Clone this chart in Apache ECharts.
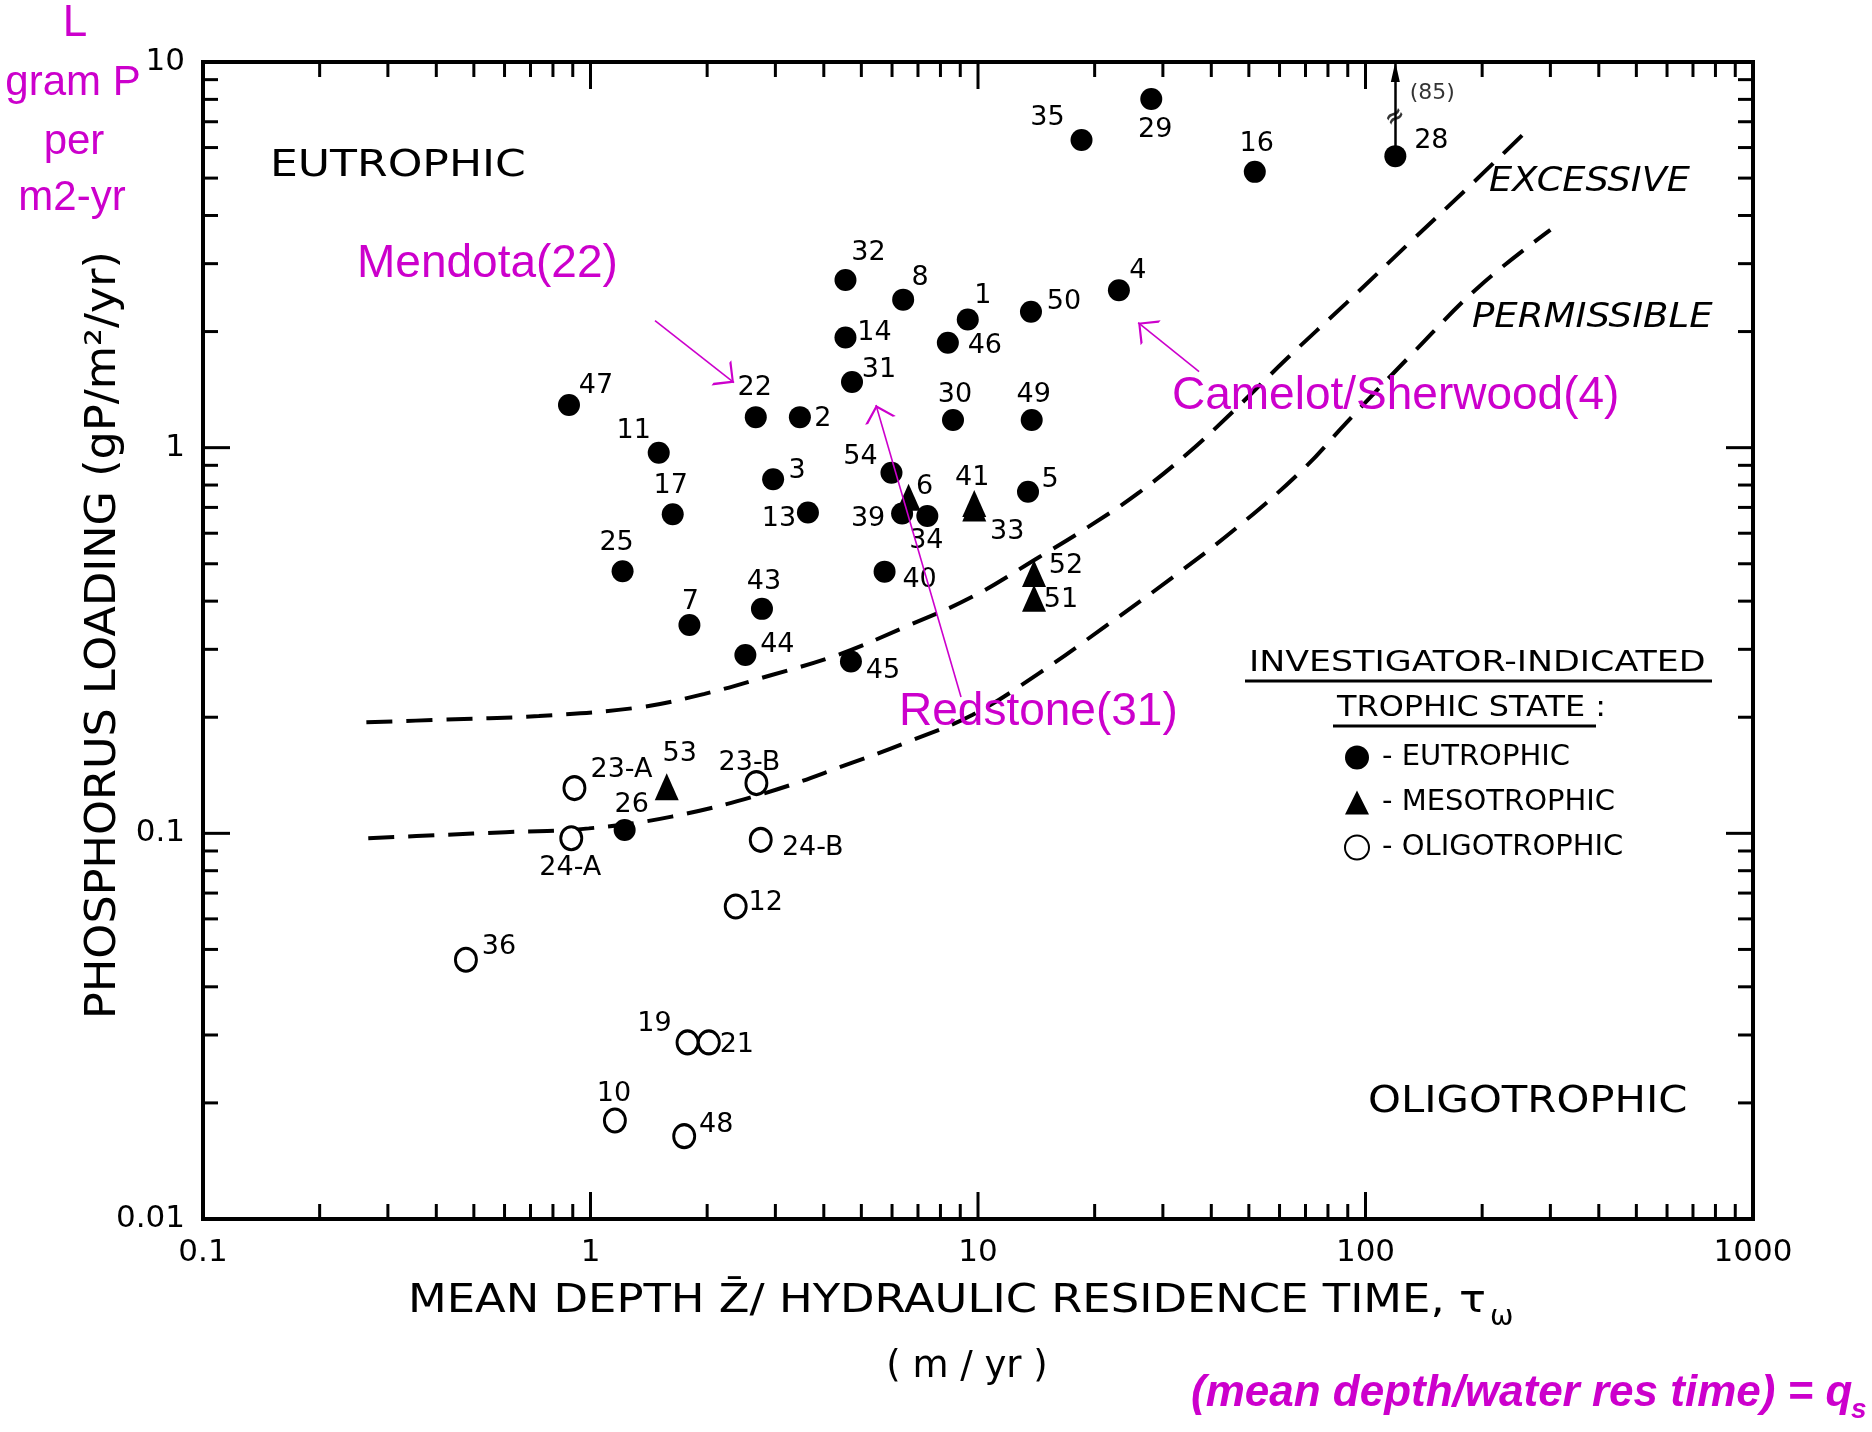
<!DOCTYPE html>
<html>
<head>
<meta charset="utf-8">
<script src="https://cdn.jsdelivr.net/npm/echarts@6/dist/echarts.min.js"></script>
<style>
  html, body { margin: 0; padding: 0; background: #ffffff; }
  #chart { width: 1872px; height: 1432px; }
</style>
</head>
<body>
<div id="chart"></div>
<script>
// Phosphorus loading L (gP/m2/yr) against qs = mean depth / hydraulic residence time (m/yr)

// Lakes reported as eutrophic
const eutrophicIds = ['47','11','17','25','7','43','44','22','2','3','13','32','14','31','8','1','46','50','4','30','49','54','39','34','5','40','45','35','29','16','28','26'];
const eutrophicQs  = [0.88,1.50,1.63,1.21,1.80,2.77,2.51,2.67,3.47,2.96,3.64,4.55,4.55,4.73,6.41,9.41,8.36,13.7,23.1,8.62,13.76,5.98,6.37,7.40,13.46,5.74,4.70,18.5,28.0,51.8,119.4,1.225];
const eutrophicL   = [1.29,0.97,0.672,0.478,0.347,0.382,0.290,1.20,1.20,0.828,0.679,2.72,1.93,1.48,2.42,2.15,1.87,2.25,2.56,1.18,1.18,0.861,0.675,0.665,0.769,0.477,0.279,6.28,8.02,5.19,5.70,0.102];

// Lakes reported as mesotrophic
const mesotrophicIds = ['6','41','33','52','51','53'];
const mesotrophicQs  = [6.62,9.78,9.78,13.95,13.95,1.573];
const mesotrophicL   = [0.744,0.717,0.698,0.472,0.407,0.132];

// Lakes reported as oligotrophic
const oligotrophicIds = ['23-A','24-A','23-B','24-B','12','36','19','21','10','48'];
const oligotrophicQs  = [0.909,0.892,2.68,2.75,2.37,0.477,1.78,2.02,1.156,1.745];
const oligotrophicL   = [0.131,0.0971,0.135,0.0962,0.0646,0.047,0.0287,0.0287,0.018,0.0164];

// Lake 28 lies off scale at L = 85
const offScaleFrom = [119.4, 5.70];
const offScaleTo   = [119.4, 10];
const offScaleBreak = [119.4, 7.18];
const offScaleNote  = [119.4, 8.32];
const offScaleText  = '(85)';

// Critical loading curves (qs, L)
const excessiveQs = [0.264,0.408,0.736,1.33,1.97,2.92,4.34,6.53,9.69,14.36,19.3,25.9,34.8,45.1,62.6,89.2,132.4,181.3,261];
const excessiveL  = [0.194,0.197,0.2015,0.212,0.230,0.257,0.290,0.344,0.411,0.52,0.624,0.762,0.967,1.23,1.70,2.37,3.46,4.66,6.64];
const permissibleQs = [0.267,0.408,0.604,0.99,1.62,2.81,4.70,6.53,9.69,14.36,21.3,31.6,46.9,69.5,89.2,132.4,196.3,300];
const permissibleL  = [0.0971,0.099,0.1007,0.103,0.1105,0.127,0.152,0.172,0.203,0.260,0.344,0.459,0.624,0.885,1.16,1.757,2.615,3.67];

// Callout arrows (tail, head) in data space
const calloutTails = [[1.467, 2.135], [37.2, 1.574], [9.04, 0.2258]];
const calloutHeads = [[2.346, 1.474], [25.9, 2.109], [5.455, 1.29]];

// Axis ticks
const xDecades = [0.1, 1, 10, 100];
const yDecades = [0.01, 0.1, 1];
const minorSteps = [2, 3, 4, 5, 6, 7, 8, 9];
const xMajorTicks = [1, 10, 100];
const yMajorTicks = [0.1, 1];
const X_MIN = 0.1, X_MAX = 1000, Y_MIN = 0.01, Y_MAX = 10;

// Label placement around each marker (pixel offsets of the label centre)
const labelOffsets = {
  '47':[27,-19], '11':[-25,-22], '17':[-2,-28], '25':[-6,-28], '7':[1,-23], '43':[2,-27],
  '44':[32,-10], '22':[-1,-29], '2':[23,2], '3':[24,-8], '13':[-29,6], '32':[23,-27],
  '8':[17,-22], '14':[29,-5], '31':[27,-12], '1':[15,-23], '46':[37,3], '50':[33,-10],
  '4':[19,-19], '30':[2,-25], '49':[2,-25], '54':[-31,-16], '39':[-34,5], '34':[-1,25],
  '5':[22,-12], '40':[35,8], '45':[32,10], '35':[-34,-22], '29':[4,31], '16':[2,-28],
  '28':[36,-15], '26':[7,-25],
  '6':[16,-10], '41':[-2,-25], '33':[33,24], '52':[32,-7], '51':[27,2], '53':[13,-33],
  '23-A':[47,-18], '24-A':[-1,30], '23-B':[-7,-20], '24-B':[52,8], '12':[30,-4],
  '36':[33,-13], '19':[-33,-18], '21':[28,3], '10':[-1,-27], '48':[32,-11]
};

const INK = '#000000';
const MAGENTA = '#CC00CC';
const LETTER_FONT = 'DejaVu Sans';
const NOTE_FONT = 'Liberation Sans';

function points(ids, qs, loads) {
  return ids.map((id, i) => ({
    name: id,
    value: [qs[i], loads[i]],
    label: { offset: labelOffsets[id] || [0, -26] }
  }));
}
function pairs(xs, ys) { return xs.map((x, i) => [x, ys[i]]); }

const xTickData = [];
xDecades.forEach(d => minorSteps.forEach(m => xTickData.push([d * m, Y_MIN, 0])));
xMajorTicks.forEach(v => xTickData.push([v, Y_MIN, 1]));
const yTickData = [];
yDecades.forEach(d => minorSteps.forEach(m => yTickData.push([X_MIN, d * m, 0])));
yMajorTicks.forEach(v => yTickData.push([X_MIN, v, 1]));

const TICK_MINOR = 15, TICK_MAJOR = 27, TICK_W = 3;

function renderXTick(params, api) {
  const cs = params.coordSys;
  const x = api.coord([api.value(0), Y_MIN])[0];
  const len = api.value(2) ? TICK_MAJOR : TICK_MINOR;
  const top = cs.y, bottom = cs.y + cs.height;
  const st = { stroke: '#000', lineWidth: TICK_W };
  return { type: 'group', children: [
    { type: 'line', shape: { x1: x, y1: bottom, x2: x, y2: bottom - len }, style: st },
    { type: 'line', shape: { x1: x, y1: top, x2: x, y2: top + len }, style: st }
  ]};
}
function renderYTick(params, api) {
  const cs = params.coordSys;
  const y = api.coord([X_MIN, api.value(1)])[1];
  const len = api.value(2) ? TICK_MAJOR : TICK_MINOR;
  const left = cs.x, right = cs.x + cs.width;
  const st = { stroke: '#000', lineWidth: TICK_W };
  return { type: 'group', children: [
    { type: 'line', shape: { x1: left, y1: y, x2: left + len, y2: y }, style: st },
    { type: 'line', shape: { x1: right, y1: y, x2: right - len, y2: y }, style: st }
  ]};
}

const logLabel = v => String(Number(Number(v).toPrecision(4)));

// Open arrow head whose tip sits at the symbol centre
const openHead = 'path://M0,16 L7,0 L14,16 L12.6,16 L7,3 L1.4,16 Z M7,-16 L7.01,-16 L7,-15.99 Z';
// Solid arrow head whose tip sits at the symbol centre
const solidHead = 'path://M0,20 L5,0 L10,20 Z M5,-20 L5.01,-20 L5,-19.99 Z';

function txt(text, x, y, font, opts) {
  opts = opts || {};
  return {
    type: 'text', x: x, y: y,
    rotation: opts.rotation || 0,
    scaleX: opts.scaleX || 1,
    silent: true,
    z: 10,
    style: {
      text: text,
      font: font,
      fill: opts.fill || INK,
      textAlign: opts.align || 'left',
      textVerticalAlign: 'middle',
      verticalAlign: 'middle'
    }
  };
}
function rule(x1, x2, y) {
  return { type: 'line', silent: true, z: 10,
    shape: { x1: x1, y1: y, x2: x2, y2: y },
    style: { stroke: '#000', lineWidth: 3 } };
}

const chart = echarts.init(document.getElementById('chart'), null, { renderer: 'canvas' });

const labelStyle = {
  show: true, position: 'inside', formatter: '{b}',
  color: INK, fontFamily: LETTER_FONT, fontSize: 27, textBorderWidth: 0
};

chart.setOption({
  animation: false,
  backgroundColor: '#ffffff',
  grid: {
    left: 203, right: 119, top: 62, bottom: 213,
    show: true, borderColor: '#000', borderWidth: 4, backgroundColor: 'transparent'
  },
  xAxis: {
    type: 'log', logBase: 10, min: X_MIN, max: X_MAX,
    axisLine: { show: false }, axisTick: { show: false }, splitLine: { show: false },
    axisLabel: {
      show: true, margin: 18, color: INK, fontFamily: LETTER_FONT, fontSize: 31,
      showMinLabel: true, showMaxLabel: true, formatter: logLabel
    }
  },
  yAxis: {
    type: 'log', logBase: 10, min: Y_MIN, max: Y_MAX,
    axisLine: { show: false }, axisTick: { show: false }, splitLine: { show: false },
    axisLabel: {
      show: true, margin: 18, color: INK, fontFamily: LETTER_FONT, fontSize: 31,
      showMinLabel: true, showMaxLabel: true, formatter: logLabel
    }
  },
  legend: {
    data: ['EUTROPHIC', 'MESOTROPHIC', 'OLIGOTROPHIC'],
    formatter: name => '- ' + name,
    orient: 'vertical',
    left: 1339, top: 738,
    itemWidth: 24, itemHeight: 24, itemGap: 16,
    selectedMode: false,
    textStyle: { color: INK, fontFamily: LETTER_FONT, fontSize: 29, lineHeight: 24, padding: [0, 0, 0, 8] }
  },
  graphic: [
    // Magenta notes
    txt('L', 75, 24, '44px "' + NOTE_FONT + '"', { fill: MAGENTA, align: 'center' }),
    txt('gram P', 73, 83, '42px "' + NOTE_FONT + '"', { fill: MAGENTA, align: 'center' }),
    txt('per', 74, 142, '42px "' + NOTE_FONT + '"', { fill: MAGENTA, align: 'center' }),
    txt('m2-yr', 72, 198, '42px "' + NOTE_FONT + '"', { fill: MAGENTA, align: 'center' }),
    txt('Mendota(22)', 357, 264, '46px "' + NOTE_FONT + '"', { fill: MAGENTA }),
    txt('Camelot/Sherwood(4)', 1172, 396, '46px "' + NOTE_FONT + '"', { fill: MAGENTA }),
    txt('Redstone(31)', 899, 712, '46px "' + NOTE_FONT + '"', { fill: MAGENTA }),
    txt('(mean depth/water res time) = q', 1191, 1394, 'italic bold 44px "' + NOTE_FONT + '"', { fill: MAGENTA }),
    txt('s', 1851, 1410, 'italic bold 28px "' + NOTE_FONT + '"', { fill: MAGENTA }),
    // Region and curve names
    txt('EUTROPHIC', 270, 166, '38px "' + LETTER_FONT + '"', { scaleX: 1.16 }),
    txt('OLIGOTROPHIC', 1368, 1102, '38px "' + LETTER_FONT + '"', { scaleX: 1.10 }),
    txt('EXCESSIVE', 1489, 182, 'italic 34px "' + LETTER_FONT + '"', { scaleX: 1.08 }),
    txt('PERMISSIBLE', 1472, 318, 'italic 34px "' + LETTER_FONT + '"', { scaleX: 1.09 }),
    // Legend heading
    txt('INVESTIGATOR-INDICATED', 1249, 663, '29px "' + LETTER_FONT + '"', { scaleX: 1.2 }),
    rule(1245, 1712, 681),
    txt('TROPHIC STATE :', 1337, 708, '29px "' + LETTER_FONT + '"', { scaleX: 1.1 }),
    rule(1333, 1596, 726),
    // Axis titles
    txt('PHOSPHORUS LOADING (gP/m\u00B2/yr)', 104, 635, '42px "' + LETTER_FONT + '"', { rotation: Math.PI / 2, align: 'center', scaleX: 1.06 }),
    txt('MEAN DEPTH Z\u0304/ HYDRAULIC RESIDENCE TIME, \u03C4', 408, 1302, '39px "' + LETTER_FONT + '"', { scaleX: 1.15 }),
    txt('\u03C9', 1490, 1318, '28px "' + LETTER_FONT + '"'),
    txt('( m / yr )', 967, 1367, '37px "' + LETTER_FONT + '"', { align: 'center' })
  ],
  series: [
    {
      name: 'EXCESSIVE', type: 'line', data: pairs(excessiveQs, excessiveL),
      smooth: 0.4, showSymbol: false, silent: true, z: 2,
      lineStyle: { color: '#000', width: 4, type: [26, 14] }
    },
    {
      name: 'PERMISSIBLE', type: 'line', data: pairs(permissibleQs, permissibleL),
      smooth: 0.4, showSymbol: false, silent: true, z: 2,
      lineStyle: { color: '#000', width: 4, type: [26, 14] }
    },
    {
      name: 'x ticks', type: 'custom', data: xTickData, encode: { x: 0, y: 1 },
      renderItem: renderXTick, silent: true, z: 3
    },
    {
      name: 'y ticks', type: 'custom', data: yTickData, encode: { x: 0, y: 1 },
      renderItem: renderYTick, silent: true, z: 3
    },
    {
      name: 'EUTROPHIC', type: 'scatter', symbol: 'circle', symbolSize: 22,
      itemStyle: { color: '#000', opacity: 1 }, label: labelStyle, silent: true, z: 5,
      data: points(eutrophicIds, eutrophicQs, eutrophicL),
      markLine: {
        silent: true, animation: false,
        symbol: ['none', solidHead], symbolSize: [9, 40],
        lineStyle: { color: '#000', width: 2.5, type: 'solid', opacity: 1 },
        label: { show: false },
        data: [[{ coord: offScaleFrom }, { coord: offScaleTo }]]
      }
    },
    {
      name: 'MESOTROPHIC', type: 'scatter', symbol: 'triangle', symbolSize: [24, 27],
      itemStyle: { color: '#000', opacity: 1 }, label: labelStyle, silent: true, z: 5,
      data: points(mesotrophicIds, mesotrophicQs, mesotrophicL)
    },
    {
      name: 'OLIGOTROPHIC', type: 'scatter', symbol: 'circle', symbolSize: [21, 23],
      itemStyle: { color: '#ffffff', borderColor: '#000', borderWidth: 3, opacity: 1 },
      label: labelStyle, silent: true, z: 5,
      data: points(oligotrophicIds, oligotrophicQs, oligotrophicL)
    },
    {
      name: 'off scale', type: 'scatter', symbolSize: 0, silent: true, z: 6,
      data: [
        { name: '\u2248', value: offScaleBreak,
          label: { show: true, formatter: '{b}', position: 'inside', rotate: 35,
                   color: '#000', fontFamily: LETTER_FONT, fontSize: 24, fontWeight: 'bold' } },
        { name: offScaleText, value: offScaleNote,
          label: { show: true, formatter: '{b}', position: 'inside', offset: [37, 0],
                   color: INK, fontFamily: LETTER_FONT, fontSize: 22 } }
      ]
    },
    {
      name: 'callouts', type: 'lines', coordinateSystem: 'cartesian2d', silent: true, z: 8,
      symbol: ['none', openHead], symbolSize: [14, 32],
      lineStyle: { color: MAGENTA, width: 1.6, opacity: 1, curveness: 0 },
      data: calloutTails.map((t, i) => ({ coords: [t, calloutHeads[i]] }))
    }
  ]
});
</script>
</body>
</html>
